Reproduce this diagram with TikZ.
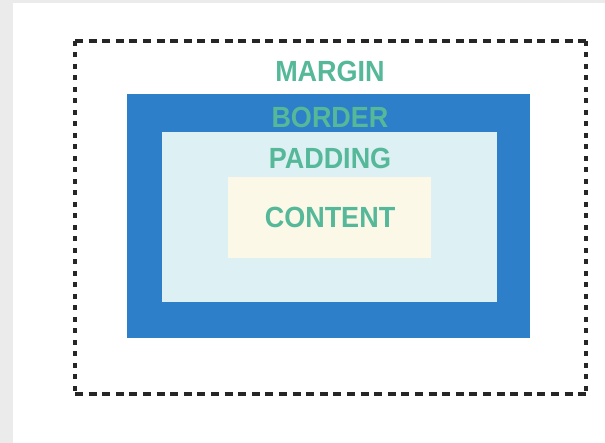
\documentclass[tikz,border=0pt]{standalone}
\usepackage{fontspec}
\setmainfont{Liberation Sans}
\definecolor{sidegray}{HTML}{EBEBEB}
\definecolor{borderblue}{HTML}{2C7FC8}
\definecolor{paddingblue}{HTML}{DDF0F4}
\definecolor{contentcream}{HTML}{FBF8E8}
\definecolor{labelgreen}{HTML}{55B899}
\tikzset{
  boxlabel/.style={font=\fontsize{27}{27}\selectfont\bfseries, text=labelgreen, inner sep=0pt, yscale=1.08},
  marginline/.style={line width=3.4pt, black!85},
}
\begin{document}
\begin{tikzpicture}[x=1pt,y=-1pt]
  % canvas
  \useasboundingbox (0,0) rectangle (605,443);
  \fill[white] (0,0) rectangle (605,443);
  \fill[sidegray] (0,0) rectangle (13,443);
  \fill[sidegray] (0,0) rectangle (605,3);

  % nested boxes
  \fill[borderblue] (127,94) rectangle (530,338);
  \fill[paddingblue] (162,132) rectangle (497,302);
  \fill[contentcream] (228,177) rectangle (431,258);

  % margin outline (dashed)
  \coordinate (mtl) at (75,41);
  \coordinate (mtr) at (586,41);
  \coordinate (mbr) at (586,394);
  \coordinate (mbl) at (75,394);
  \draw[marginline, dash pattern=on 8pt off 5.6pt] (mtl) -- (mtr);
  \draw[marginline, dash pattern=on 8pt off 5.6pt] (mbl) -- (mbr);
  \draw[marginline, dash pattern=on 5pt off 6.5pt] (mtl) -- (mbl);
  \draw[marginline, dash pattern=on 5pt off 6.5pt] (mtr) -- (mbr);

  % labels
  \node[boxlabel] (margin) at (330,71) {MARGIN};
  \node[boxlabel] (border) at (330,117) {BORDER};
  \node[boxlabel] (padding) at (330,158) {PADDING};
  \node[boxlabel] (content) at (330,217) {CONTENT};
\end{tikzpicture}
\end{document}
